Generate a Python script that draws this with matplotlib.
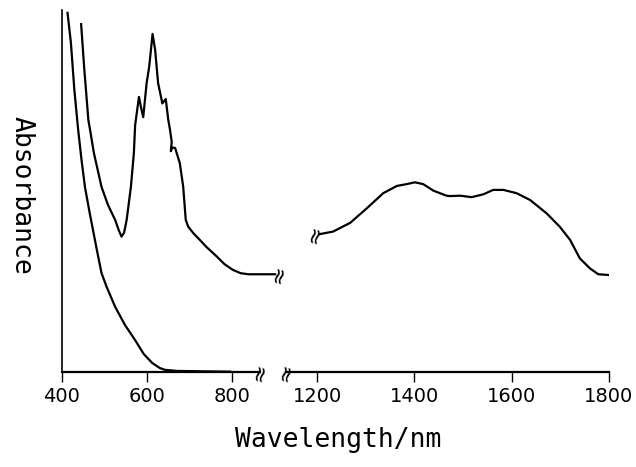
import matplotlib
matplotlib.use("Agg")
import matplotlib.pyplot as plt

# ---- data (absorbance in arbitrary units) ----
wl_a = [413, 421, 429, 438, 446, 454, 465, 482, 493, 505, 525, 548, 572, 592,
        612, 630, 642, 670, 725, 795]
abs_a = [0.992, 0.909, 0.780, 0.669, 0.585, 0.511, 0.440, 0.337, 0.273, 0.235,
         0.180, 0.130, 0.088, 0.050, 0.025, 0.011, 0.006, 0.003, 0.002, 0.001]

wl_b = [445, 452, 462, 466, 475, 493, 508, 525, 534, 540, 546, 552, 562, 569, 572,
        581, 586, 591, 599, 605, 613, 619, 626, 636, 644, 650, 654, 658, 656, 659,
        666, 677, 685, 691, 697, 710, 724, 740, 764, 782, 802, 820, 838, 901]
abs_b = [0.961, 0.843, 0.696, 0.669, 0.605, 0.511, 0.462, 0.420, 0.390, 0.374,
         0.385, 0.420, 0.511, 0.605, 0.682, 0.760, 0.730, 0.704, 0.798, 0.843,
         0.934, 0.890, 0.798, 0.742, 0.754, 0.696, 0.669, 0.636, 0.610, 0.620,
         0.619, 0.577, 0.512, 0.420, 0.401, 0.382, 0.365, 0.345, 0.319, 0.298,
         0.282, 0.273, 0.270, 0.270]

wl_nir = [1206, 1233, 1268, 1302, 1336, 1364, 1384, 1401, 1418, 1439, 1466, 1473,
          1494, 1518, 1542, 1562, 1583, 1610, 1638, 1672, 1699, 1720, 1740, 1761,
          1778, 1799]
abs_nir = [0.381, 0.388, 0.412, 0.452, 0.494, 0.514, 0.519, 0.524, 0.519, 0.501,
           0.487, 0.486, 0.487, 0.483, 0.491, 0.503, 0.503, 0.494, 0.475, 0.438,
           0.401, 0.365, 0.314, 0.286, 0.270, 0.268]

left_ticks = [400, 600, 800]
right_ticks = [1200, 1400, 1600, 1800]

W, H = 636, 467
fig = plt.figure(figsize=(W / 100, H / 100), dpi=100)

def box(x0, x1, y0=10, y1=372):
    return [x0 / W, 1 - y1 / H, (x1 - x0) / W, (y1 - y0) / H]

axL = fig.add_axes(box(62, 281))
axR = fig.add_axes(box(284, 609))

lw = 1.6
axL.plot(wl_a, abs_a, color="black", lw=lw, solid_joinstyle="round")
axL.plot(wl_b, abs_b, color="black", lw=lw, solid_joinstyle="round")
axR.plot(wl_nir, abs_nir, color="black", lw=lw, solid_joinstyle="round")

axL.set_xlim(400, 915)
axR.set_xlim(1132, 1800)
for ax in (axL, axR):
    ax.set_ylim(0, 1.0)
    ax.patch.set_alpha(0)
    ax.spines["top"].set_visible(False)
    ax.spines["right"].set_visible(False)
    ax.tick_params(axis="x", direction="out", length=7, width=1.0,
                   labelsize=14, pad=4)
    ax.set_yticks([])
    ax.spines["bottom"].set_linewidth(1.6)

axL.spines["left"].set_linewidth(1.2)
axR.spines["left"].set_visible(False)
axL.spines["bottom"].set_bounds(400, 866)
axR.spines["bottom"].set_bounds(1136, 1800)
axL.set_xticks(left_ticks)
axL.set_xticklabels([str(t) for t in left_ticks])
axR.set_xticks(right_ticks)
axR.set_xticklabels([str(t) for t in right_ticks])

# break marks
brk = dict(rotation=75, ha="center", va="center", fontsize=16, clip_on=False)
axL.text(866, 0.0, "≈", **brk)
axR.text(1137, 0.0, "≈", **brk)
axL.text(910, 0.270, "≈", **brk)
axR.text(1196, 0.381, "≈", **brk)

fig.text(338 / W, 1 - 440 / H, "Wavelength/nm", ha="center", va="center",
         fontsize=19, family="DejaVu Sans Mono")
fig.text(22 / W, 1 - 195 / H, "Absorbance", ha="center", va="center",
         rotation=-90, fontsize=19, family="DejaVu Sans Mono")

fig.savefig("out.png", dpi=100)
